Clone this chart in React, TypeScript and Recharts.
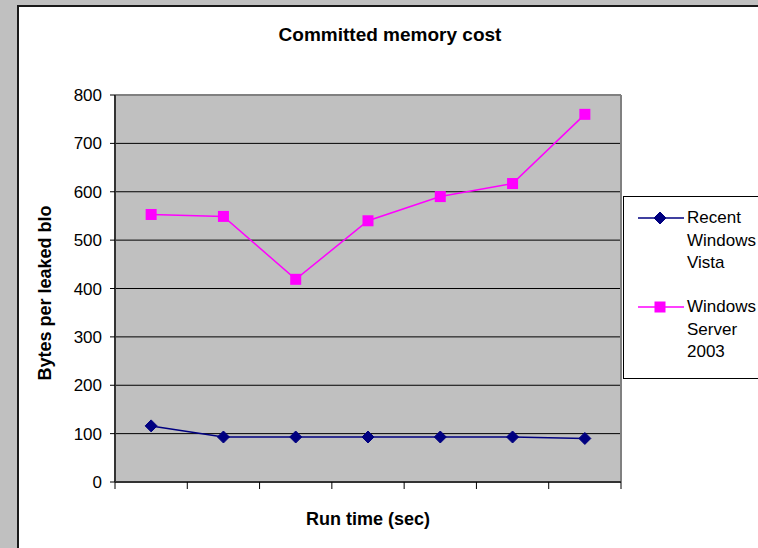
import React from 'react';
import { LineChart, Line, XAxis, YAxis, CartesianGrid, ReferenceLine, Label } from 'recharts';

const runs = [1, 2, 3, 4, 5, 6, 7];
const vistaBytes = [116, 93, 93, 93, 93, 93, 90];
const server2003Bytes = [553, 549, 419, 540, 590, 617, 760];
const yTicks = [0, 100, 200, 300, 400, 500, 600, 700, 800];
const xTicks = [0, 1, 2, 3, 4, 5, 6, 7];

const chartTitle = 'Committed memory cost';
const xTitle = 'Run time (sec)';
const yTitle = 'Bytes per leaked blo';

const series = [
  { key: 'vista', lines: ['Recent', 'Windows', 'Vista'], color: '#000080', shape: 'diamond' },
  { key: 'server', lines: ['Windows', 'Server', '2003'], color: '#FF00FF', shape: 'square' },
];

// each run sits in the middle of its slot, ticks fall on slot edges
const data = runs.map((run, i) => ({
  x: run - 0.5,
  vista: vistaBytes[i],
  server: server2003Bytes[i],
}));

const FONT = '"Liberation Sans", Arial, sans-serif';

function Diamond({ cx, cy, fill }: any) {
  if (cx == null || cy == null) return null;
  const r = 6;
  return (
    <polygon
      points={`${cx},${cy - r} ${cx + r},${cy} ${cx},${cy + r} ${cx - r},${cy}`}
      fill={fill}
      stroke={fill}
    />
  );
}

function Square({ cx, cy, fill }: any) {
  if (cx == null || cy == null) return null;
  const s = 11;
  return <rect x={cx - s / 2} y={cy - s / 2} width={s} height={s} fill={fill} />;
}

function LegendIcon({ color, shape }: { color: string; shape: string }) {
  return (
    <svg width={46} height={14} style={{ position: 'absolute', left: 14, top: 4 }}>
      <line x1={0} y1={7} x2={46} y2={7} stroke={color} strokeWidth={1.5} />
      {shape === 'diamond' ? <Diamond cx={22} cy={7} fill={color} /> : <Square cx={22} cy={7} fill={color} />}
    </svg>
  );
}

export default function App() {
  return (
    <div
      style={{
        position: 'fixed',
        left: 0,
        top: 0,
        width: 758,
        height: 548,
        overflow: 'hidden',
        background: '#C0C0C0',
        fontFamily: FONT,
      }}
    >
      <div
        style={{
          position: 'absolute',
          left: 17,
          top: 5,
          width: 746,
          height: 600,
          background: '#fff',
          border: '2px solid #1a1a1a',
          boxSizing: 'border-box',
        }}
      />
      <div
        style={{
          position: 'absolute',
          left: 17,
          top: 25,
          width: 746,
          textAlign: 'center',
          fontSize: 19,
          lineHeight: '19px',
          fontWeight: 'bold',
          color: '#000',
        }}
      >
        {chartTitle}
      </div>

      <LineChart
        width={758}
        height={548}
        data={data}
        margin={{ top: 95, right: 137, bottom: 0, left: 0 }}
        style={{ position: 'absolute', left: 0, top: 0 }}
      >
        <CartesianGrid vertical={false} fill="#C0C0C0" fillOpacity={1} stroke="#000" strokeOpacity={1} />
        <ReferenceLine y={800} stroke="#808080" strokeWidth={2} />
        <ReferenceLine x={7} stroke="#808080" strokeWidth={2} />
        <XAxis
          type="number"
          dataKey="x"
          domain={[0, 7]}
          ticks={xTicks}
          tickFormatter={() => ''}
          tickSize={7}
          height={66}
          axisLine={{ stroke: '#333', strokeWidth: 2 }}
          tickLine={{ stroke: '#000' }}
        >
          <Label
            content={({ viewBox }: any) => (
              <text
                x={viewBox.x + viewBox.width / 2}
                y={viewBox.y + 43}
                textAnchor="middle"
                fontFamily={FONT}
                fontSize={18}
                fontWeight="bold"
                fill="#000"
              >
                {xTitle}
              </text>
            )}
          />
        </XAxis>
        <YAxis
          domain={[0, 800]}
          ticks={yTicks}
          interval={0}
          width={115}
          tickSize={5}
          tickMargin={8}
          axisLine={{ stroke: '#333', strokeWidth: 2 }}
          tickLine={{ stroke: '#000' }}
          tick={{ fontFamily: FONT, fontSize: 17, fill: '#000' }}
        >
          <Label
            content={({ viewBox }: any) => {
              const x = viewBox.x + 51;
              const y = viewBox.y + 198;
              return (
                <text
                  x={x}
                  y={y}
                  transform={`rotate(-90 ${x} ${y})`}
                  textAnchor="middle"
                  fontFamily={FONT}
                  fontSize={18}
                  fontWeight="bold"
                  fill="#000"
                >
                  {yTitle}
                </text>
              );
            }}
          />
        </YAxis>
        <Line
          type="linear"
          dataKey="vista"
          stroke="#000080"
          strokeWidth={1.5}
          dot={(p: any) => <Diamond key={p.index} cx={p.cx} cy={p.cy} fill="#000080" />}
          activeDot={false}
          isAnimationActive={false}
        />
        <Line
          type="linear"
          dataKey="server"
          stroke="#FF00FF"
          strokeWidth={1.5}
          dot={(p: any) => <Square key={p.index} cx={p.cx} cy={p.cy} fill="#FF00FF" />}
          activeDot={false}
          isAnimationActive={false}
        />
      </LineChart>

      <div
        style={{
          position: 'absolute',
          left: 623,
          top: 196,
          width: 160,
          height: 183,
          background: '#fff',
          border: '1px solid #000',
          boxSizing: 'border-box',
        }}
      >
        {series.map((s, i) => (
          <div key={s.key} style={{ position: 'absolute', left: 0, top: i === 0 ? 10 : 99, width: 160 }}>
            <LegendIcon color={s.color} shape={s.shape} />
            <div
              style={{
                position: 'absolute',
                left: 63,
                top: 0,
                fontSize: 17,
                lineHeight: '22.5px',
                color: '#000',
                whiteSpace: 'nowrap',
              }}
            >
              {s.lines.map((t) => (
                <div key={t}>{t}</div>
              ))}
            </div>
          </div>
        ))}
      </div>
    </div>
  );
}
